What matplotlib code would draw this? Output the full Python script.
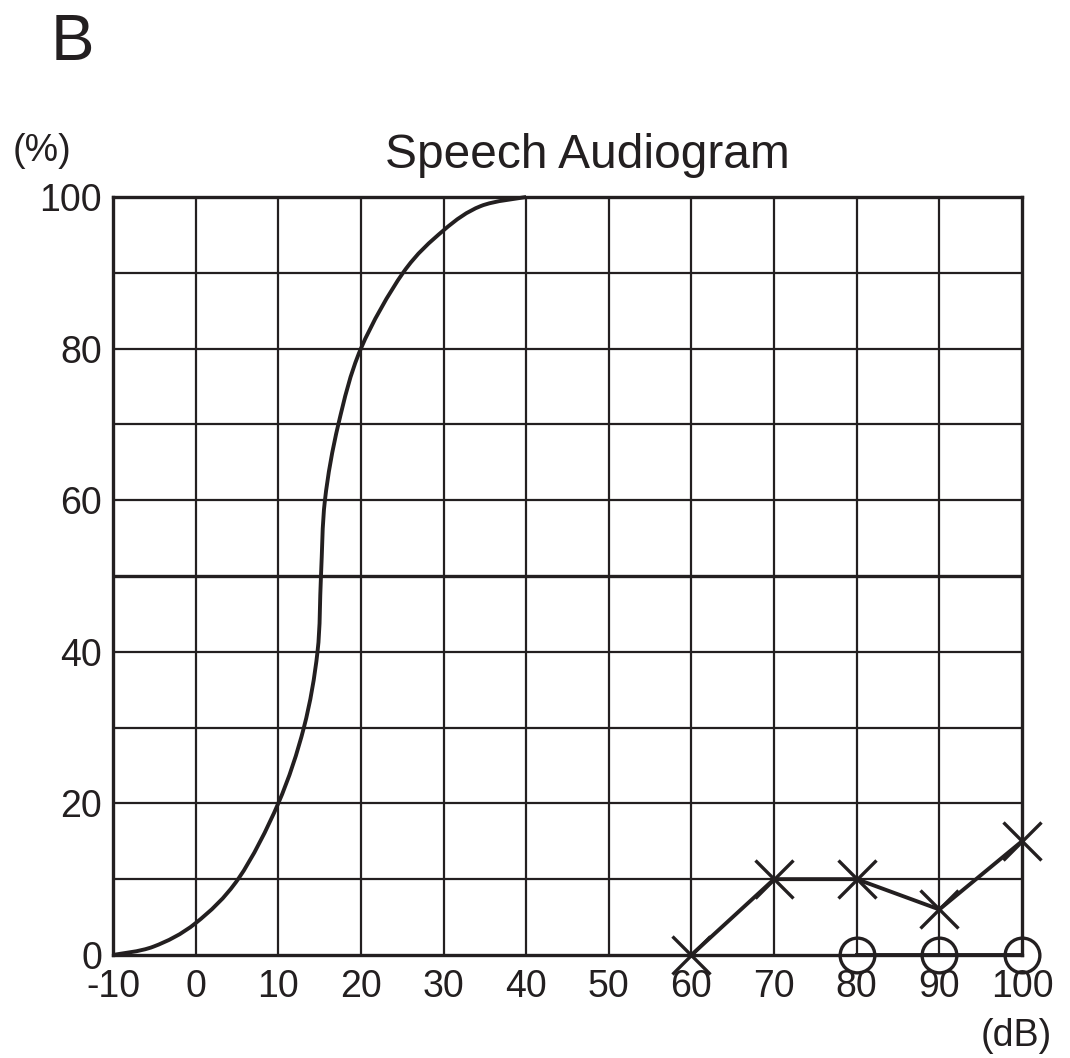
import numpy as np
import matplotlib.pyplot as plt
from matplotlib.path import Path
from matplotlib.patches import PathPatch

plt.rcParams['font.family'] = ['Liberation Sans', 'DejaVu Sans']

ink = '#231f20'

# normal speech curve (dB, %)
curve_db = [-10, -5.1, 0, 5.2, 10, 13.1, 14.75, 15.17, 15.65, 17.27,
            20, 25.1, 30, 34.5, 40]
curve_pct = [0, 1.1, 4.2, 10.1, 20, 30, 40, 50, 60, 70,
             80, 90, 95.6, 98.8, 100]

# patient results
x_db = [60, 70, 80, 90, 100]
x_pct = [0, 10, 10, 6, 15]
o_db = [80, 90, 100]
o_pct = [0, 0, 0]

xticks = [-10, 0, 10, 20, 30, 40, 50, 60, 70, 80, 90, 100]
xlabels = ['-10', '0', '10', '20', '30', '40', '50', '60', '70', '80', '90', '100']
yticks = [0, 20, 40, 60, 80, 100]


def smooth_path(xs, ys):
    # catmull-rom through the read points, drawn as cubic bezier segments
    p = np.column_stack([xs, ys])
    verts = [p[0]]
    codes = [Path.MOVETO]
    for i in range(len(p) - 1):
        p0 = p[i - 1] if i > 0 else p[i]
        p3 = p[i + 2] if i + 2 < len(p) else p[i + 1]
        c1 = p[i] + (p[i + 1] - p0) / 6
        c2 = p[i + 1] - (p3 - p[i]) / 6
        verts += [c1, c2, p[i + 1]]
        codes += [Path.CURVE4] * 3
    return Path(verts, codes)


fig = plt.figure(figsize=(10.7, 10.58), dpi=100)
ax = fig.add_axes([0.1056, 0.0974, 0.8495, 0.7164])
ax.set_xlim(-10, 100)
ax.set_ylim(0, 100)

for v in range(0, 100, 10):
    ax.axvline(v, color=ink, lw=1.6, zorder=1)
for v in range(10, 100, 10):
    ax.axhline(v, color=ink, lw=2.4 if v == 50 else 1.6, zorder=1)

for s in ax.spines.values():
    s.set_color(ink)
    s.set_linewidth(2.4)

ax.add_patch(PathPatch(smooth_path(curve_db, curve_pct), facecolor='none',
                       edgecolor=ink, lw=2.8, zorder=3, clip_on=False))
ax.plot(x_db, x_pct, color=ink, lw=2.8, marker='x', ms=27, mew=2.4,
        zorder=4, clip_on=False)
ax.plot(o_db, o_pct, color=ink, lw=2.8, marker='o', ms=25, mew=2.4,
        mfc='none', zorder=4, clip_on=False)

ax.set_xticks(xticks)
ax.set_xticklabels(xlabels)
ax.set_yticks(yticks)
ax.tick_params(length=0, labelsize=27, colors=ink)
ax.tick_params(axis='x', pad=10)
ax.tick_params(axis='y', pad=8)

fig.text(0.047, 0.959, 'B', fontsize=47, color=ink, ha='left', va='center')
fig.text(0.549, 0.853, 'Speech Audiogram', fontsize=34.5, color=ink,
         ha='center', va='center')
fig.text(0.039, 0.857, '(%)', fontsize=27, color=ink, ha='center', va='center')
fig.text(0.95, 0.021, '(dB)', fontsize=27, color=ink, ha='center', va='center')

fig.savefig('out.png', dpi=100, facecolor='white')
